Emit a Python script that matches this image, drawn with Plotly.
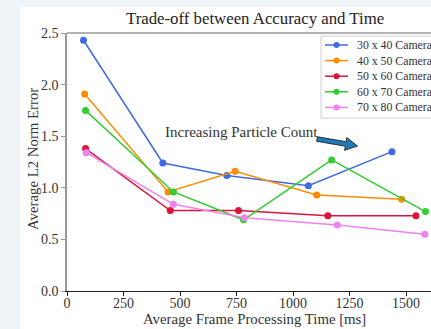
import numpy as np
import plotly.graph_objects as go

# ---- data ----
series_names = ["30 x 40 Camera", "40 x 50 Camera", "50 x 60 Camera", "60 x 70 Camera", "70 x 80 Camera"]
series_colors = ["#4169E1", "#FF8C00", "#DC143C", "#32CD32", "#EE82EE"]
times_30x40 = [73, 424, 707, 1068, 1438]
err_30x40 = [2.43, 1.24, 1.12, 1.02, 1.35]
times_40x50 = [78, 447, 744, 1105, 1481]
err_40x50 = [1.91, 0.96, 1.16, 0.93, 0.89]
times_50x60 = [82, 457, 759, 1154, 1544]
err_50x60 = [1.38, 0.78, 0.78, 0.73, 0.73]
times_60x70 = [82, 471, 781, 1171, 1586]
err_60x70 = [1.75, 0.96, 0.69, 1.27, 0.77]
times_70x80 = [85, 471, 785, 1196, 1583]
err_70x80 = [1.34, 0.84, 0.71, 0.64, 0.55]
x_ticks = [0, 250, 500, 750, 1000, 1250, 1500]
y_ticks = [0.0, 0.5, 1.0, 1.5, 2.0, 2.5]

all_times = [times_30x40, times_40x50, times_50x60, times_60x70, times_70x80]
all_errs = [err_30x40, err_40x50, err_50x60, err_60x70, err_70x80]

FONT = "Liberation Serif"
TXT = "#333333"

W, H = 445, 329
L, T, B = 67, 33, 38
R = 2
PW = W - L - R
PH = H - T - B
XMAX = PW / 0.226


def px_x(p):
    return (p - L) / PW


def px_y(p):
    return (H - B - p) / PH


fig = go.Figure()
for name, col, xs, ys in zip(series_names, series_colors, all_times, all_errs):
    fig.add_trace(go.Scatter(x=xs, y=ys, mode="lines+markers", name=name,
                             line=dict(color=col, width=1.5),
                             marker=dict(color=col, size=7),
                             showlegend=False))

# manual legend (overlay axes in pixel units)
leg_left, leg_top, leg_bottom = 321, 36, 118
leg_y0, leg_dy = 45, 15.6
for i, (name, col) in enumerate(zip(series_names, series_colors)):
    yy = leg_y0 + i * leg_dy
    fig.add_trace(go.Scatter(x=[325, 336.5, 348], y=[yy, yy, yy], xaxis="x2", yaxis="y2",
                             mode="lines", line=dict(color=col, width=1.5),
                             showlegend=False, hoverinfo="skip"))
    fig.add_trace(go.Scatter(x=[336.5], y=[yy], xaxis="x2", yaxis="y2",
                             mode="markers", marker=dict(color=col, size=6),
                             showlegend=False, hoverinfo="skip"))
    fig.add_annotation(x=355, y=yy, xref="x2", yref="y2", text=name, showarrow=False,
                       xanchor="left", yanchor="middle",
                       font=dict(family=FONT, size=11.8, color=TXT))

shapes = []
# page strips
shapes.append(dict(type="rect", xref="paper", yref="paper", x0=px_x(-5), x1=px_x(20),
                   y0=px_y(H + 5), y1=px_y(-5), fillcolor="#EEF4F8", line=dict(width=0), layer="below"))
shapes.append(dict(type="rect", xref="paper", yref="paper", x0=px_x(-5), x1=px_x(W + 5),
                   y0=px_y(7), y1=px_y(-5), fillcolor="#EEF4F8", line=dict(width=0), layer="below"))
# top spine
shapes.append(dict(type="line", xref="paper", yref="paper", x0=0, x1=1, y0=1, y1=1,
                   line=dict(color="#999999", width=1.5)))
# legend box
shapes.append(dict(type="rect", xref="x2", yref="y2", x0=leg_left, x1=leg_left + 130,
                   y0=leg_top, y1=leg_bottom, fillcolor="rgba(255,255,255,0.8)",
                   line=dict(color="#d0d0d0", width=1), layer="below"))

# fat arrow
tail = np.array([317.0, 139.0])
tip = np.array([357.5, 146.0])
d = (tip - tail) / np.linalg.norm(tip - tail)
n = np.array([-d[1], d[0]])
hw_s, hw_h, hl = 2.3, 6.5, 12.0
base = tip - d * hl
pts = [tail + n * hw_s, base + n * hw_s, base + n * hw_h, tip,
       base - n * hw_h, base - n * hw_s, tail - n * hw_s]
path = "M " + " L ".join(f"{p[0]:.2f},{p[1]:.2f}" for p in pts) + " Z"
shapes.append(dict(type="path", xref="x2", yref="y2", path=path, fillcolor="#2179b5",
                   line=dict(color="#111111", width=0.8)))

fig.update_layout(shapes=shapes)

fig.add_annotation(x=px_x(163), y=px_y(131.5), xref="paper", yref="paper",
                   text="Increasing Particle Count", showarrow=False,
                   xanchor="left", yanchor="middle", font=dict(family=FONT, size=15, color=TXT))
fig.add_annotation(x=px_x(255), y=px_y(19), xref="paper", yref="paper",
                   text="Trade-off between Accuracy and Time", showarrow=False,
                   xanchor="center", yanchor="middle", font=dict(family=FONT, size=16.8, color="#222222"))
fig.add_annotation(x=px_x(254.5), y=px_y(319), xref="paper", yref="paper",
                   text="Average Frame Processing Time [ms]", showarrow=False,
                   xanchor="center", yanchor="middle", font=dict(family=FONT, size=14.8, color=TXT))
fig.add_annotation(x=px_x(33), y=px_y(159), xref="paper", yref="paper",
                   text="Average L2 Norm Error", showarrow=False, textangle=-90,
                   xanchor="center", yanchor="middle", font=dict(family=FONT, size=14.8, color=TXT))

fig.update_layout(
    width=W, height=H,
    margin=dict(l=L, r=R, t=T, b=B, pad=0),
    paper_bgcolor="white", plot_bgcolor="white",
    showlegend=False,
    font=dict(family=FONT, color=TXT),
    xaxis=dict(range=[0, XMAX], tickvals=x_ticks, showgrid=False, zeroline=False,
               showline=True, linecolor="#222222", linewidth=1,
               ticks="outside", ticklen=4, tickcolor="#222222",
               ticklabelstandoff=-5,
               tickfont=dict(family=FONT, size=14, color=TXT)),
    yaxis=dict(range=[0, 2.5], tickvals=y_ticks, tickformat=".1f", showgrid=False, zeroline=False,
               showline=True, linecolor="#999999", linewidth=1.5,
               ticks="outside", ticklen=4, tickcolor="#999999",
               ticklabelstandoff=0,
               tickfont=dict(family=FONT, size=14, color=TXT)),
    xaxis2=dict(overlaying="x", range=[L, L + PW], visible=False, fixedrange=True),
    yaxis2=dict(overlaying="y", range=[H - B, T], visible=False, fixedrange=True),
)

fig.write_html("out.html", config={"displayModeBar": False}, post_script=(
    "document.documentElement.style.overflow='hidden';"
    "document.body.style.overflow='hidden';document.body.style.margin='0';"))
